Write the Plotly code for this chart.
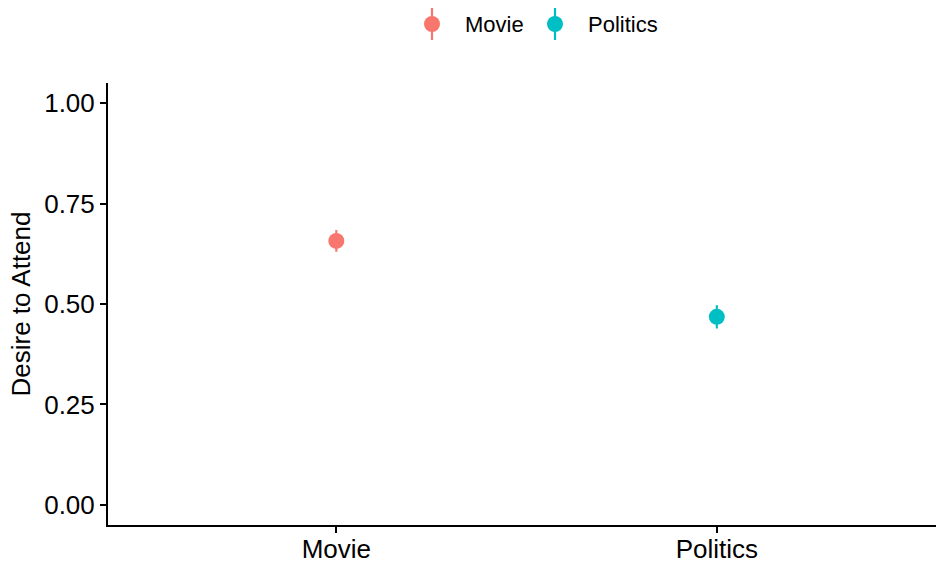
import plotly.graph_objects as go

# Mean desire to attend per event type, with error half-widths
conditions = ["Movie", "Politics"]
means = [0.657, 0.468]
errors = [0.027, 0.029]
colors = ["#F8766D", "#00BFC4"]

y_ticks = [0.0, 0.25, 0.5, 0.75, 1.0]
y_ticklabels = ["0.00", "0.25", "0.50", "0.75", "1.00"]

W, H = 936, 565
L, R, T, B = 108, 0, 83, 40
FONT = "Liberation Sans, Arial, Helvetica, sans-serif"

fig = go.Figure()
for i, (cond, m, e, c) in enumerate(zip(conditions, means, errors, colors)):
    fig.add_trace(go.Scatter(
        x=[i + 1], y=[m], mode="markers", name=cond, showlegend=False,
        marker=dict(color=c, size=16, line=dict(width=0)),
        error_y=dict(type="data", array=[e], color=c, thickness=2.2, width=0),
    ))

# Legend drawn at the top: vertical stroke through a dot, then the label
pw, ph = W - L - R, H - T - B


def px_x(x):
    return (x - L) / pw


def px_y(y):
    return (H - B - y) / ph


legend_x = [432, 555]
for cond, c, lx in zip(conditions, colors, legend_x):
    fig.add_shape(type="line", xref="paper", yref="paper",
                  x0=px_x(lx), x1=px_x(lx), y0=px_y(8), y1=px_y(40),
                  line=dict(color=c, width=2.2))
    fig.add_shape(type="circle", xref="paper", yref="paper",
                  x0=px_x(lx - 8), x1=px_x(lx + 8), y0=px_y(16), y1=px_y(32),
                  fillcolor=c, line=dict(width=0))
    fig.add_annotation(text=cond, xref="paper", yref="paper",
                       x=px_x(lx + 31), y=px_y(24), xanchor="left", yanchor="middle",
                       showarrow=False, font=dict(family=FONT, size=22, color="black"))

fig.update_layout(
    width=W, height=H,
    margin=dict(l=L, r=R, t=T, b=B, pad=0, autoexpand=False),
    plot_bgcolor="white", paper_bgcolor="white",
    font=dict(family=FONT, color="black"),
    showlegend=False,
)
fig.update_xaxes(
    range=[0.4, 2.576], tickvals=[1, 2], ticktext=conditions,
    showline=True, linecolor="black", linewidth=2, mirror=False,
    ticks="outside", ticklen=6, tickwidth=2, tickcolor="black",
    ticklabelstandoff=-6,
    showgrid=False, zeroline=False, automargin=False,
    tickfont=dict(family=FONT, size=26, color="black"),
)
fig.update_yaxes(
    range=[-0.05, 1.05], tickvals=y_ticks, ticktext=y_ticklabels,
    showline=True, linecolor="black", linewidth=2,
    ticks="outside", ticklen=6, tickwidth=2, tickcolor="black",
    showgrid=False, zeroline=False, automargin=False,
    tickfont=dict(family=FONT, size=26, color="black"),
    title=dict(text="Desire to Attend", font=dict(family=FONT, size=26, color="black"), standoff=6),
)

fig.write_html("out.html")
